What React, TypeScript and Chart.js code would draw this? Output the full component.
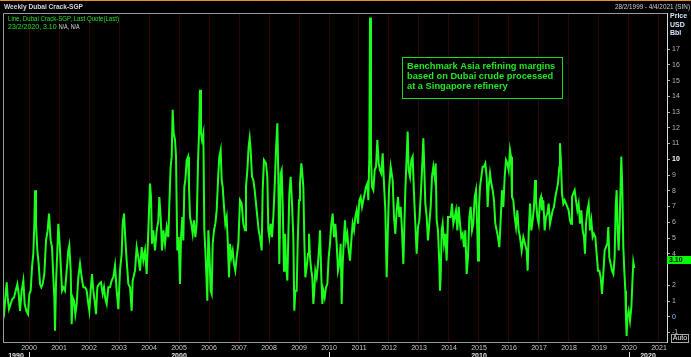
import React, { useEffect, useRef } from "react";
import { Chart, registerables } from "chart.js";

Chart.register(...registerables);

const title = "Weekly Dubai Crack-SGP";
const dateRangeText = "28/2/1999 - 4/4/2021 (SIN)";
const legendLine = "Line, Dubai Crack-SGP, Last Quote(Last)";
const lastQuoteDate = "23/2/2020";
const lastQuote = 3.1;
const naText = "N/A, N/A";
const annotationLines = [
  "Benchmark Asia refining margins",
  "based on Dubai crude processed",
  "at a Singapore refinery",
];
const unitLabels = ["Price", "USD", "Bbl"];
const yearTicks = [
  2000, 2001, 2002, 2003, 2004, 2005, 2006, 2007, 2008, 2009, 2010,
  2011, 2012, 2013, 2014, 2015, 2016, 2017, 2018, 2019, 2020, 2021,
];
const decadeLabels = [1990, 2000, 2010, 2020];
const priceTicks = [-1, 0, 1, 2, 3, 4, 5, 6, 7, 8, 9, 10, 11, 12, 13, 14, 15, 16, 17];
const xMin = 1999.133;
const xMax = 2021.267;
const yMin = -1.6;
const yMax = 19.29;

// 1999 - mid 2003
const dates1999_2003 = [
  1999.144, 1999.178, 1999.211, 1999.256, 1999.289, 1999.333, 1999.389, 1999.444, 1999.5, 1999.556,
  1999.611, 1999.656, 1999.7, 1999.756, 1999.811, 1999.856, 1999.911, 1999.967, 2000.011, 2000.056,
  2000.1, 2000.144, 2000.178, 2000.2, 2000.233, 2000.278, 2000.322, 2000.367, 2000.411, 2000.456,
  2000.511, 2000.567, 2000.622, 2000.667, 2000.722, 2000.767, 2000.811, 2000.844, 2000.867, 2000.9,
  2000.944, 2000.978, 2001.022, 2001.056, 2001.1, 2001.144, 2001.2, 2001.256, 2001.311, 2001.344,
  2001.389, 2001.422, 2001.456, 2001.5, 2001.544, 2001.589, 2001.644, 2001.7, 2001.756, 2001.811,
  2001.867, 2001.922, 2001.978, 2002.011, 2002.056, 2002.1, 2002.144, 2002.2, 2002.233, 2002.278,
  2002.333, 2002.4, 2002.456, 2002.5, 2002.544, 2002.589, 2002.644, 2002.7, 2002.756, 2002.811,
  2002.867, 2002.922, 2002.978, 2003.033, 2003.089, 2003.122, 2003.167, 2003.2, 2003.256, 2003.311,
  2003.367,
];
const crack1999_2003 = [
  0.81, 0.38, 1.23, 2.19, 1.23, 0.49, 0.81, 1.13, 1.23, 1.66,
  2.08, 1.45, 0.38, 1.66, 2.3, 0.81, 0.38, 0.17, 1.45, 1.66,
  3.15, 4.0, 5.91, 8.04, 5.91, 4.21, 3.36, 2.08, 1.87, 2.08,
  2.72, 4.85, 5.49, 6.55, 4.85, 4.42, 2.51, 1.23, -0.89, 2.08,
  4.21, 5.91, 4.64, 3.36, 1.66, 1.87, 1.66, 2.93, 4.21, 4.53,
  2.93, -0.47, 1.23, 1.02, 0.17, 0.81, 2.51, 3.36, 2.51, 1.87,
  1.87, 1.66, 0.81, 0.38, 1.66, 2.72, 1.66, 0.81, 0.17, 1.87,
  2.08, 2.19, 1.45, 1.87, 1.13, 0.81, 1.87, 1.87, 2.3, 2.51,
  3.25, 1.66, 0.49, 2.93, 4.0, 5.91, 6.55, 5.27, 3.57, 2.08,
  1.87,
];

// mid 2003 - mid 2007
const dates2003_2007 = [
  2003.422, 2003.456, 2003.533, 2003.589, 2003.644, 2003.7, 2003.756, 2003.811, 2003.867, 2003.922,
  2003.978, 2004.033, 2004.067, 2004.1, 2004.144, 2004.2, 2004.256, 2004.311, 2004.344, 2004.389,
  2004.433, 2004.478, 2004.533, 2004.589, 2004.644, 2004.678, 2004.722, 2004.756, 2004.789, 2004.822,
  2004.867, 2004.9, 2004.944, 2004.989, 2005.033, 2005.067, 2005.111, 2005.144, 2005.178, 2005.211,
  2005.256, 2005.3, 2005.333, 2005.367, 2005.411, 2005.456, 2005.5, 2005.544, 2005.589, 2005.633,
  2005.667, 2005.7, 2005.733, 2005.767, 2005.811, 2005.844, 2005.878, 2005.911, 2005.944, 2005.978,
  2006.011, 2006.056, 2006.089, 2006.122, 2006.167, 2006.211, 2006.256, 2006.311, 2006.344, 2006.389,
  2006.422, 2006.456, 2006.5, 2006.544, 2006.589, 2006.633, 2006.667, 2006.7, 2006.744, 2006.789,
  2006.833, 2006.878, 2006.922, 2006.978, 2007.033, 2007.089, 2007.144, 2007.2, 2007.233, 2007.278,
  2007.322, 2007.356, 2007.389, 2007.433, 2007.478, 2007.522, 2007.567, 2007.611, 2007.656, 2007.7,
];
const crack2003_2007 = [
  0.38, 2.3, 2.93, 4.42, 3.78, 2.93, 4.42, 3.57, 4.21, 2.72,
  5.49, 8.46, 7.61, 4.64, 5.49, 4.21, 5.49, 6.12, 7.61, 6.34,
  4.21, 5.49, 4.64, 5.7, 5.06, 7.19, 9.53, 10.17, 13.14, 11.65,
  11.23, 10.17, 4.21, 5.06, 2.08, 5.06, 6.34, 4.85, 8.25, 8.68,
  9.95, 10.17, 8.25, 6.34, 5.91, 5.27, 6.12, 5.06, 5.91, 9.74,
  11.65, 14.42, 11.65, 11.23, 11.65, 5.49, 4.21, 2.72, 1.02, 5.49,
  4.21, 1.66, 1.45, 4.64, 5.49, 5.91, 6.76, 9.1, 10.17, 10.59,
  8.68, 8.25, 6.98, 5.91, 6.34, 4.42, 2.51, 4.64, 3.78, 4.21,
  3.36, 2.93, 3.78, 4.64, 7.4, 7.19, 5.91, 5.49, 8.25, 9.31,
  10.8, 11.34, 10.59, 8.89, 8.68, 8.04, 7.19, 6.34, 5.49, 5.06,
];

// mid 2007 - 2011
const dates2007_2011 = [
  2007.756, 2007.789, 2007.833, 2007.9, 2007.944, 2007.978, 2008.011, 2008.056, 2008.1, 2008.144,
  2008.189, 2008.233, 2008.278, 2008.311, 2008.344, 2008.389, 2008.422, 2008.456, 2008.5, 2008.533,
  2008.567, 2008.611, 2008.644, 2008.678, 2008.722, 2008.767, 2008.811, 2008.844, 2008.878, 2008.922,
  2008.956, 2009.0, 2009.033, 2009.078, 2009.111, 2009.144, 2009.178, 2009.211, 2009.256, 2009.3,
  2009.333, 2009.367, 2009.411, 2009.444, 2009.478, 2009.511, 2009.544, 2009.589, 2009.633, 2009.678,
  2009.7, 2009.744, 2009.778, 2009.811, 2009.856, 2009.9, 2009.944, 2009.989, 2010.033, 2010.078,
  2010.122, 2010.167, 2010.211, 2010.256, 2010.3, 2010.344, 2010.389, 2010.422, 2010.456, 2010.5,
  2010.533, 2010.567, 2010.611, 2010.656, 2010.7, 2010.744, 2010.789, 2010.833, 2010.878, 2010.922,
  2010.967, 2011.011, 2011.056, 2011.1, 2011.144, 2011.189, 2011.233, 2011.278, 2011.311, 2011.344,
  2011.367, 2011.4, 2011.433, 2011.478, 2011.522, 2011.567, 2011.611, 2011.656, 2011.7, 2011.744,
  2011.789, 2011.833, 2011.878, 2011.922, 2011.956, 2012.0, 2012.056,
];
const crack2007_2011 = [
  4.21, 8.04, 9.95, 9.74, 8.89, 5.49, 5.06, 5.91, 5.06, 6.34,
  8.25, 10.59, 12.29, 8.89, 3.36, 9.1, 9.31, 7.19, 2.93, 5.27,
  3.36, 2.3, 5.06, 7.83, 8.89, 7.19, 5.06, 0.38, 1.66, 1.66,
  4.64, 7.4, 8.46, 9.74, 9.1, 8.25, 4.85, 2.51, 3.15, 4.0,
  5.27, 3.78, 2.93, 2.51, 0.81, 1.66, 2.93, 2.51, 3.36, 4.64,
  5.49, 2.51, 0.81, 1.66, 1.23, 1.87, 2.08, 3.78, 4.64, 5.91,
  6.55, 5.06, 5.91, 4.64, 2.93, 3.36, 4.64, 0.81, 3.36, 5.06,
  6.12, 4.85, 5.27, 4.21, 3.57, 4.85, 5.91, 5.49, 6.34, 6.76,
  5.91, 7.4, 7.61, 6.98, 7.4, 7.83, 8.25, 8.46, 7.4, 10.17,
  19.0, 10.17, 8.25, 8.04, 9.31, 9.53, 11.23, 9.74, 9.31, 9.1,
  10.38, 8.46, 6.76, 2.51, 5.06, 8.04, 9.53,
];

// 2012 - mid 2016
const dates2012_2016 = [
  2012.122, 2012.167, 2012.211, 2012.256, 2012.3, 2012.344, 2012.389, 2012.433, 2012.478, 2012.511,
  2012.544, 2012.589, 2012.622, 2012.656, 2012.7, 2012.744, 2012.789, 2012.833, 2012.878, 2012.922,
  2012.967, 2013.011, 2013.056, 2013.1, 2013.144, 2013.178, 2013.211, 2013.256, 2013.3, 2013.344,
  2013.389, 2013.433, 2013.478, 2013.522, 2013.556, 2013.589, 2013.633, 2013.678, 2013.7, 2013.722,
  2013.756, 2013.789, 2013.833, 2013.878, 2013.922, 2013.967, 2014.011, 2014.056, 2014.1, 2014.144,
  2014.189, 2014.233, 2014.278, 2014.322, 2014.367, 2014.411, 2014.456, 2014.5, 2014.544, 2014.589,
  2014.633, 2014.678, 2014.722, 2014.767, 2014.811, 2014.856, 2014.9, 2014.944, 2014.967, 2015.0,
  2015.033, 2015.078, 2015.122, 2015.167, 2015.211, 2015.256, 2015.289, 2015.322, 2015.367, 2015.411,
  2015.456, 2015.5, 2015.544, 2015.589, 2015.633, 2015.678, 2015.722, 2015.767, 2015.811, 2015.856,
  2015.9, 2015.944, 2015.989, 2016.033, 2016.067, 2016.1, 2016.144, 2016.189, 2016.233, 2016.278,
  2016.322, 2016.367,
];
const crack2012_2016 = [
  8.68, 6.34, 5.27, 6.76, 7.61, 6.34, 6.98, 5.49, 3.36, 5.7,
  8.04, 10.17, 11.76, 9.31, 8.89, 9.95, 10.17, 7.83, 5.91, 4.0,
  5.7, 6.12, 7.61, 9.31, 11.34, 9.31, 7.19, 6.34, 4.85, 5.91,
  6.98, 8.89, 9.53, 8.89, 9.74, 6.12, 5.49, 3.36, 1.66, 2.51,
  5.49, 5.91, 4.64, 5.27, 3.57, 6.34, 6.34, 6.34, 7.19, 5.91,
  6.34, 6.76, 5.49, 6.98, 5.91, 5.06, 5.27, 4.42, 5.49, 2.72,
  3.78, 6.34, 6.98, 5.49, 5.91, 7.61, 8.04, 5.49, 3.57, 6.98,
  8.25, 8.89, 9.53, 9.53, 9.74, 8.89, 6.98, 8.25, 9.1, 8.46,
  8.04, 7.4, 5.91, 5.49, 5.06, 4.42, 6.12, 8.04, 6.98, 8.89,
  9.95, 9.74, 9.31, 10.59, 10.17, 7.61, 7.4, 6.34, 5.7, 6.76,
  5.49, 5.06,
];

// mid 2016 - 2020
const dates2016_2020 = [
  2016.422, 2016.478, 2016.533, 2016.589, 2016.622, 2016.656, 2016.7, 2016.744, 2016.789, 2016.833,
  2016.867, 2016.9, 2016.944, 2016.989, 2017.033, 2017.067, 2017.1, 2017.144, 2017.189, 2017.233,
  2017.278, 2017.322, 2017.367, 2017.411, 2017.456, 2017.5, 2017.544, 2017.589, 2017.633, 2017.678,
  2017.7, 2017.733, 2017.767, 2017.811, 2017.856, 2017.9, 2017.944, 2017.989, 2018.033, 2018.067,
  2018.1, 2018.144, 2018.189, 2018.233, 2018.278, 2018.322, 2018.367, 2018.411, 2018.456, 2018.5,
  2018.533, 2018.567, 2018.611, 2018.656, 2018.7, 2018.744, 2018.789, 2018.833, 2018.878, 2018.922,
  2018.967, 2019.011, 2019.056, 2019.1, 2019.144, 2019.189, 2019.233, 2019.278, 2019.311, 2019.344,
  2019.389, 2019.433, 2019.478, 2019.522, 2019.556, 2019.589, 2019.622, 2019.656, 2019.689, 2019.722,
  2019.744, 2019.778, 2019.811, 2019.844, 2019.878, 2019.9, 2019.922, 2019.944, 2019.989, 2020.033,
  2020.078, 2020.111, 2020.144, 2020.178,
];
const crack2016_2020 = [
  4.21, 5.06, 4.64, 4.21, 2.93, 5.27, 7.19, 5.49, 6.12, 6.98,
  8.68, 7.4, 6.34, 5.91, 7.4, 7.61, 6.76, 7.4, 5.49, 6.34,
  6.55, 7.19, 5.91, 6.34, 6.76, 6.98, 7.61, 8.04, 8.46, 9.53,
  11.02, 9.74, 7.83, 7.19, 7.4, 7.19, 6.98, 6.76, 6.12, 5.91,
  7.61, 7.83, 8.04, 7.4, 6.76, 7.19, 5.91, 6.76, 5.49, 5.06,
  4.0, 5.91, 6.76, 7.19, 5.49, 6.12, 5.06, 5.27, 5.06, 4.0,
  2.93, 2.93, 2.51, 1.45, 2.72, 4.21, 4.42, 4.64, 5.7, 3.78,
  3.36, 2.93, 2.72, 3.78, 6.98, 8.04, 5.49, 4.21, 5.91, 8.46,
  10.17, 8.04, 4.42, 2.93, 1.66, -0.04, -1.21, -0.04, 0.38, -0.26,
  0.59, 2.08, 3.47, 3.1,
];

const segments = [
  [dates1999_2003, crack1999_2003],
  [dates2003_2007, crack2003_2007],
  [dates2007_2011, crack2007_2011],
  [dates2012_2016, crack2012_2016],
  [dates2016_2020, crack2016_2020],
];

const FONT = '"Liberation Sans", Arial, sans-serif';

const overlayPlugin = {
  id: "overlay",
  beforeDraw(chart: any) {
    const { ctx, width, height } = chart;
    ctx.save();
    ctx.fillStyle = "#000000";
    ctx.fillRect(0, 0, width, height);
    ctx.restore();
  },
  beforeDatasetsDraw(chart: any) {
    const { ctx, chartArea: a } = chart;
    ctx.save();
    const bx = a.left + 399;
    const by = a.top + 44;
    ctx.fillStyle = "#000000";
    ctx.fillRect(bx, by, 160, 41);
    ctx.restore();
  },
  afterDraw(chart: any) {
    const { ctx, chartArea: a, scales } = chart;
    const xs = scales.x;
    const ys = scales.y;
    const W = chart.width;
    ctx.save();

    // orange top rule
    ctx.fillStyle = "#e8902e";
    ctx.fillRect(0, 0, W, 1);

    // frame (left + top)
    ctx.strokeStyle = "#9a9a9a";
    ctx.lineWidth = 1;
    ctx.beginPath();
    ctx.moveTo(a.left + 0.5, a.bottom);
    ctx.lineTo(a.left + 0.5, a.top + 0.5);
    ctx.lineTo(a.right, a.top + 0.5);
    ctx.stroke();

    // header
    ctx.textBaseline = "middle";
    ctx.textAlign = "left";
    ctx.font = `bold 8px ${FONT}`;
    ctx.fillStyle = "#d4d4d4";
    ctx.fillText(title, 4, 6.5, 79);
    ctx.font = `7px ${FONT}`;
    ctx.textAlign = "right";
    ctx.fillStyle = "#d0d0d0";
    ctx.fillText(dateRangeText, W - 1, 7, 75);

    // legend
    ctx.textAlign = "left";
    ctx.font = `7px ${FONT}`;
    ctx.fillStyle = "#22e022";
    ctx.fillText(legendLine, 8, 19.5, 111);
    const q = `${lastQuoteDate}, ${lastQuote.toFixed(2)}`;
    ctx.fillText(q, 8, 27, 53);
    const qw = Math.min(ctx.measureText(q).width, 53);
    ctx.fillStyle = "#d8d8d8";
    ctx.fillText(naText, 8 + qw + 2, 27, 21);

    // unit labels over the price axis
    ctx.font = `bold 7px ${FONT}`;
    ctx.fillStyle = "#d6e6ff";
    unitLabels.forEach((t, i) => {
      ctx.fillText(t, a.right + 3, 16.5 + i * 8.5, 18);
    });

    // last value marker
    const py = ys.getPixelForValue(lastQuote);
    ctx.fillStyle = "#00ff00";
    ctx.fillRect(a.right, py - 12, W - a.right, 8);
    ctx.fillStyle = "#000000";
    ctx.font = `bold 7px ${FONT}`;
    ctx.fillText(lastQuote.toFixed(2), a.right + 2, py - 8);

    // Auto button
    ctx.strokeStyle = "#a8a8a8";
    ctx.strokeRect(a.right + 4.5, a.bottom - 7.5, 17, 8);
    ctx.fillStyle = "#ececec";
    ctx.font = `7px ${FONT}`;
    ctx.textAlign = "center";
    ctx.fillText("Auto", a.right + 13, a.bottom - 3.5, 16);

    // decade row
    ctx.font = `bold 7px ${FONT}`;
    ctx.fillStyle = "#e4e4e4";
    ctx.textBaseline = "top";
    decadeLabels.forEach((d) => {
      const s = Math.max(d, xs.min);
      const e = Math.min(d + 10, xs.max);
      const cx = (xs.getPixelForValue(s) + xs.getPixelForValue(e)) / 2;
      ctx.fillText(String(d), cx, a.bottom + 11);
      if (d > xs.min) {
        const tx = Math.round(xs.getPixelForValue(d)) + 0.5;
        ctx.strokeStyle = "#e0e0e0";
        ctx.beginPath();
        ctx.moveTo(tx, a.bottom + 10);
        ctx.lineTo(tx, chart.height);
        ctx.stroke();
      }
    });

    // annotation box
    const bx = a.left + 399;
    const by = a.top + 44;
    ctx.strokeStyle = "#1ed81e";
    ctx.lineWidth = 1;
    ctx.strokeRect(bx + 0.5, by + 0.5, 160, 41);
    ctx.textAlign = "left";
    ctx.textBaseline = "middle";
    ctx.font = `bold 9.3px ${FONT}`;
    ctx.fillStyle = "#22e622";
    annotationLines.forEach((t, i) => {
      ctx.fillText(t, bx + 5, by + 9.5 + i * 10, 150);
    });

    ctx.restore();
  },
};

export default function App() {
  const ref = useRef<HTMLCanvasElement | null>(null);

  useEffect(() => {
    const canvas = ref.current;
    if (!canvas) return;
    const points: { x: number; y: number }[] = [];
    segments.forEach(([ds, vs]) => {
      ds.forEach((d, i) => points.push({ x: d, y: vs[i] }));
    });

    const hideNearQuote = (v: number) => Math.abs(v - lastQuote) < 0.5;

    const chart = new Chart(canvas, {
      type: "line",
      data: {
        datasets: [
          {
            label: "Dubai Crack-SGP",
            data: points,
            borderColor: "#1cff1c",
            borderWidth: 2,
            pointRadius: 0,
            tension: 0,
            fill: false,
          },
        ],
      },
      options: {
        responsive: false,
        animation: false,
        devicePixelRatio: 1,
        layout: { padding: { left: 3, top: 13, right: 0, bottom: 0 } },
        plugins: {
          legend: { display: false },
          tooltip: { enabled: false },
        },
        scales: {
          x: {
            type: "linear",
            min: xMin,
            max: xMax,
            bounds: "data",
            afterBuildTicks: (axis: any) => {
              axis.ticks = yearTicks.map((v) => ({ value: v }));
            },
            afterFit: (axis: any) => {
              axis.height = 15;
            },
            grid: {
              color: "#2c0404",
              lineWidth: 1,
              drawTicks: false,
              tickLength: 0,
            },
            border: { display: true, color: "#9a9a9a", width: 1 },
            ticks: {
              autoSkip: false,
              maxRotation: 0,
              padding: 2,
              color: "#c8c8c8",
              font: { family: FONT, size: 7 },
              callback: (v: any) => String(v),
            },
          },
          y: {
            type: "linear",
            position: "right",
            min: yMin,
            max: yMax,
            bounds: "data",
            afterBuildTicks: (axis: any) => {
              axis.ticks = priceTicks.map((v) => ({ value: v }));
            },
            afterFit: (axis: any) => {
              axis.width = 24;
            },
            grid: {
              drawOnChartArea: false,
              drawTicks: true,
              tickLength: 3,
              tickColor: (c: any) =>
                c.tick && hideNearQuote(c.tick.value) ? "rgba(0,0,0,0)" : "#b0b0b0",
            },
            border: { display: true, color: "#d8d8d8", width: 1 },
            ticks: {
              autoSkip: false,
              padding: 2,
              font: (c: any) => ({
                family: FONT,
                size: 7,
                weight: c.tick && c.tick.value === 10 ? "bold" : "normal",
              }),
              color: (c: any) => {
                const v = c.tick ? c.tick.value : 1;
                if (v === 10) return "#ffffff";
                if (v === 0) return "#9fc8ff";
                return "#b4b4b4";
              },
              callback: (v: any) => (hideNearQuote(Number(v)) ? "" : String(v)),
            },
          },
        },
      },
      plugins: [overlayPlugin],
    });
    return () => chart.destroy();
  }, []);

  return (
    <div
      style={{
        position: "fixed",
        left: 0,
        top: 0,
        width: 691,
        height: 357,
        background: "#000",
        overflow: "hidden",
      }}
    >
      <canvas ref={ref} width={691} height={357} style={{ display: "block", width: 691, height: 357 }} />
    </div>
  );
}
